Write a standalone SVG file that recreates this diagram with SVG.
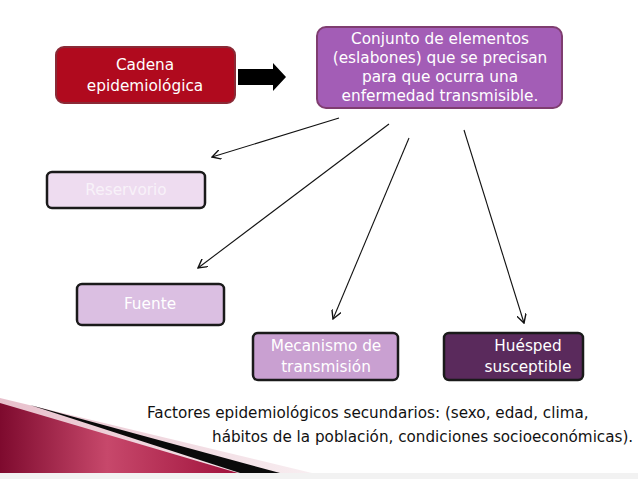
<svg xmlns="http://www.w3.org/2000/svg" width="638" height="479" viewBox="0 0 638 479">
<style>
.t{font-family:"DejaVu Sans",Verdana,sans-serif;font-size:15.3px;fill:#ffffff;text-anchor:middle}
.f{font-family:"DejaVu Sans",Verdana,sans-serif;font-size:15.2px;fill:#111111}
.lvl{stroke:#1a1a1a;stroke-width:2.5}
.c{stroke:#111;stroke-width:1.1;fill:none;marker-end:url(#ah)}
</style>
<defs>
<marker id="ah" viewBox="0 0 10 10" refX="9" refY="5" markerWidth="10" markerHeight="10" markerUnits="userSpaceOnUse" orient="auto">
<path d="M0,0 L9,5 L0,10" fill="none" stroke="#111" stroke-width="1.4"/>
</marker>
<linearGradient id="cr" x1="0" y1="0" x2="1" y2="0">
<stop offset="0" stop-color="#7e0a2e"/>
<stop offset="0.45" stop-color="#c7486b"/>
<stop offset="1" stop-color="#a0123c"/>
</linearGradient>
<linearGradient id="pk" x1="0" y1="0" x2="1" y2="0">
<stop offset="0" stop-color="#e8c0cc"/>
<stop offset="1" stop-color="#f8eef1"/>
</linearGradient>
</defs>
<rect width="638" height="479" fill="#ffffff"/>
<g id="decor">
<polygon points="0,398 312,473 0,473" fill="url(#pk)"/>
<polygon points="30,405 280,473 240,473" fill="#0a0a0a"/>
<polygon points="0,403 238,473 0,473" fill="url(#cr)"/>
<rect x="0" y="473" width="638" height="6" fill="#f2f2f2"/>
</g>
<g id="cadena">
<rect x="56" y="47" width="179" height="56" rx="8" fill="#b00a1e" stroke="#8a2a36" stroke-width="2"/>
<text class="t" x="145" y="70">Cadena</text>
<text class="t" x="145" y="91">epidemiológica</text>
</g>
<g id="block-arrow">
<polygon points="238,69 273,69 273,63 286,77 273,91 273,85 238,85" fill="#000"/>
</g>
<g id="conjunto">
<rect x="317" y="27" width="245" height="81" rx="9" fill="#a35db6" stroke="#7f3d70" stroke-width="2"/>
<text class="t" x="440" y="44">Conjunto de elementos</text>
<text class="t" x="440" y="63">(eslabones) que se precisan</text>
<text class="t" x="440" y="82">para que ocurra una</text>
<text class="t" x="440" y="101">enfermedad transmisible.</text>
</g>
<g id="reservorio">
<rect class="lvl" x="47" y="172" width="158" height="36" rx="5" fill="#eedcf0"/>
<text class="t" x="126" y="195" style="fill:#f8f2f9">Reservorio</text>
</g>
<g id="fuente">
<rect class="lvl" x="77" y="284" width="147" height="41" rx="5" fill="#dbbfe2"/>
<text class="t" x="150" y="309">Fuente</text>
</g>
<g id="mecanismo">
<rect class="lvl" x="253" y="333" width="145" height="47" rx="5" fill="#c9a0d1"/>
<text class="t" x="326" y="351">Mecanismo de</text>
<text class="t" x="326" y="372">transmisión</text>
</g>
<g id="huesped">
<rect class="lvl" x="444" y="333" width="139" height="47" rx="5" fill="#5a2a5c"/>
<text class="t" x="528" y="351">Huésped</text>
<text class="t" x="528" y="372">susceptible</text>
</g>
<g id="connectors">
<line class="c" x1="339" y1="118" x2="212" y2="157"/>
<line class="c" x1="389" y1="124" x2="198" y2="268"/>
<line class="c" x1="409" y1="138" x2="333" y2="319"/>
<line class="c" x1="464" y1="130" x2="524" y2="323"/>
</g>
<g id="footer">
<text class="f" x="147" y="418">Factores epidemiológicos secundarios: (sexo, edad, clima,</text>
<text class="f" x="212" y="442">hábitos de la población, condiciones socioeconómicas).</text>
</g>
</svg>
